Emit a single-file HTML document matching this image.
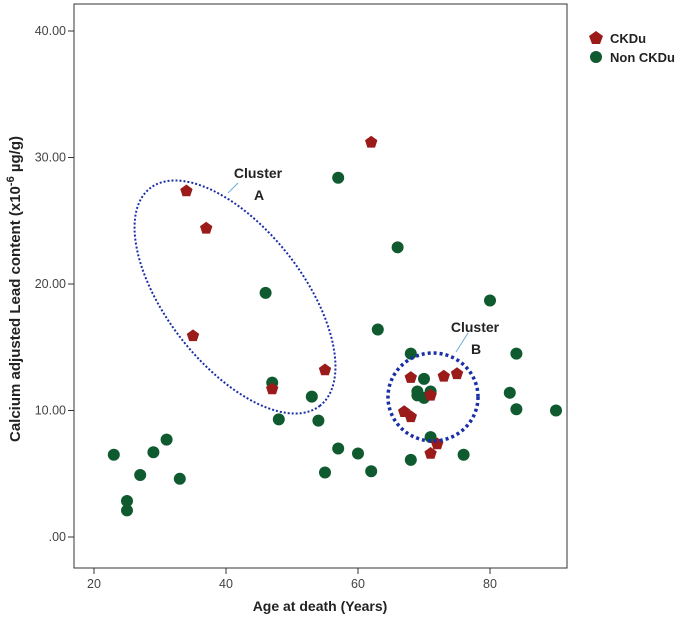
<!DOCTYPE html>
<html><head><meta charset="utf-8"><style>
body{margin:0;background:#fff;}
svg{display:block;font-family:"Liberation Sans",Arial,sans-serif;}
</style></head><body>
<svg id="chart" width="685" height="617">
<rect x="74" y="4" width="493" height="564" fill="none" stroke="#333" stroke-width="1"/>
<g id="axes"></g>
<g id="marks"></g>
<ellipse cx="235" cy="297" rx="138" ry="68" transform="rotate(52 235 297)" fill="none" stroke="#1a2ea8" stroke-width="2" stroke-dasharray="2 2"/>
<ellipse cx="433" cy="397" rx="45" ry="44" fill="none" stroke="#1a2ea8" stroke-width="3.5" stroke-dasharray="3 3"/>
<line x1="238" y1="183" x2="228" y2="193" stroke="#6aaed6" stroke-width="1"/>
<line x1="468" y1="333" x2="456" y2="352" stroke="#6aaed6" stroke-width="1"/>
<text x="258" y="178" font-size="14" font-weight="bold" text-anchor="middle" fill="#222">Cluster</text>
<text x="259" y="200" font-size="14" font-weight="bold" text-anchor="middle" fill="#222">A</text>
<text x="475" y="332" font-size="14" font-weight="bold" text-anchor="middle" fill="#222">Cluster</text>
<text x="476" y="354" font-size="14" font-weight="bold" text-anchor="middle" fill="#222">B</text>
<text x="320" y="611" font-size="14" font-weight="bold" text-anchor="middle" fill="#222">Age at death (Years)</text>
<text transform="translate(20 289) rotate(-90)" font-size="15" font-weight="bold" text-anchor="middle" fill="#222">Calcium adjusted Lead content (x10<tspan dy="-6" font-size="11">-6</tspan><tspan dy="6"> µg/g)</tspan></text>
<g>
<polygon points="596,31 603,36 600,44 592,44 589,36" fill="#9b1b1b"/>
<text x="610" y="43" font-size="13" font-weight="bold" fill="#222">CKDu</text>
<circle cx="596" cy="57" r="6" fill="#0f5a2e"/>
<text x="610" y="62" font-size="13" font-weight="bold" fill="#222">Non CKDu</text>
</g>
</svg>
<script>
const xTicks=[20,40,60,80];
const yTicks=[0,10,20,30,40];
const yTickLabels=[".00","10.00","20.00","30.00","40.00"];
const ckduAge=[34,37,35,55,47,62,68,73,75,67,68,71,71,72];
const ckduLead=[27.35,24.4,15.9,13.2,11.7,31.2,12.6,12.7,12.9,9.9,9.5,11.2,6.6,7.35];
const nonAge=[23,25,25,27,29,31,33,46,47,48,53,54,55,57,57,60,62,63,66,68,70,69,70,71,69,71,68,76,80,83,84,84,90];
const nonLead=[6.5,2.85,2.1,4.9,6.7,7.7,4.6,19.3,12.2,9.3,11.1,9.2,5.1,7.0,28.4,6.6,5.2,16.4,22.9,14.5,12.5,11.2,11.0,11.5,11.5,7.9,6.1,6.5,18.7,11.4,14.5,10.1,10.0];
const NS="http://www.w3.org/2000/svg";
const xs=v=>94+(v-20)*6.6;
const ys=v=>537-v*12.65;
const axes=document.getElementById('axes'),marks=document.getElementById('marks');
function mk(tag,attrs,parent){const e=document.createElementNS(NS,tag);for(const k in attrs)e.setAttribute(k,attrs[k]);parent.appendChild(e);return e;}
xTicks.forEach(t=>{
 const l=mk('line',{x1:xs(t),x2:xs(t),y1:568,y2:574,stroke:'#333'},axes);
 
 
 const tx=mk('text',{x:xs(t),y:588,'font-size':12.5,'text-anchor':'middle',fill:'#444'},axes);
 tx.textContent=t;
 
 
});
yTicks.forEach((t,i)=>{
 const l=mk('line',{x1:68,x2:74,y1:ys(t),y2:ys(t),stroke:'#333'},axes);
 
 
 const tx=mk('text',{x:66,y:ys(t)+4,'font-size':12.5,'text-anchor':'end',fill:'#444'},axes);
 tx.textContent=yTickLabels[i];
 
 
});
nonAge.forEach((a,i)=>{
 const c=mk('circle',{cx:xs(a),cy:ys(nonLead[i]),r:6,fill:'#0f5a2e'},marks);
 
 
});
ckduAge.forEach((a,i)=>{
 const cx=xs(a),cy=ys(ckduLead[i]);let p=[];
 for(let k=0;k<5;k++){const an=-Math.PI/2+k*2*Math.PI/5;p.push((cx+6.5*Math.cos(an)).toFixed(1)+','+(cy+6.5*Math.sin(an)).toFixed(1));}
 const g=mk('polygon',{points:p.join(' '),fill:'#9b1b1b'},marks);
 
 
});
</script>
</body></html>
